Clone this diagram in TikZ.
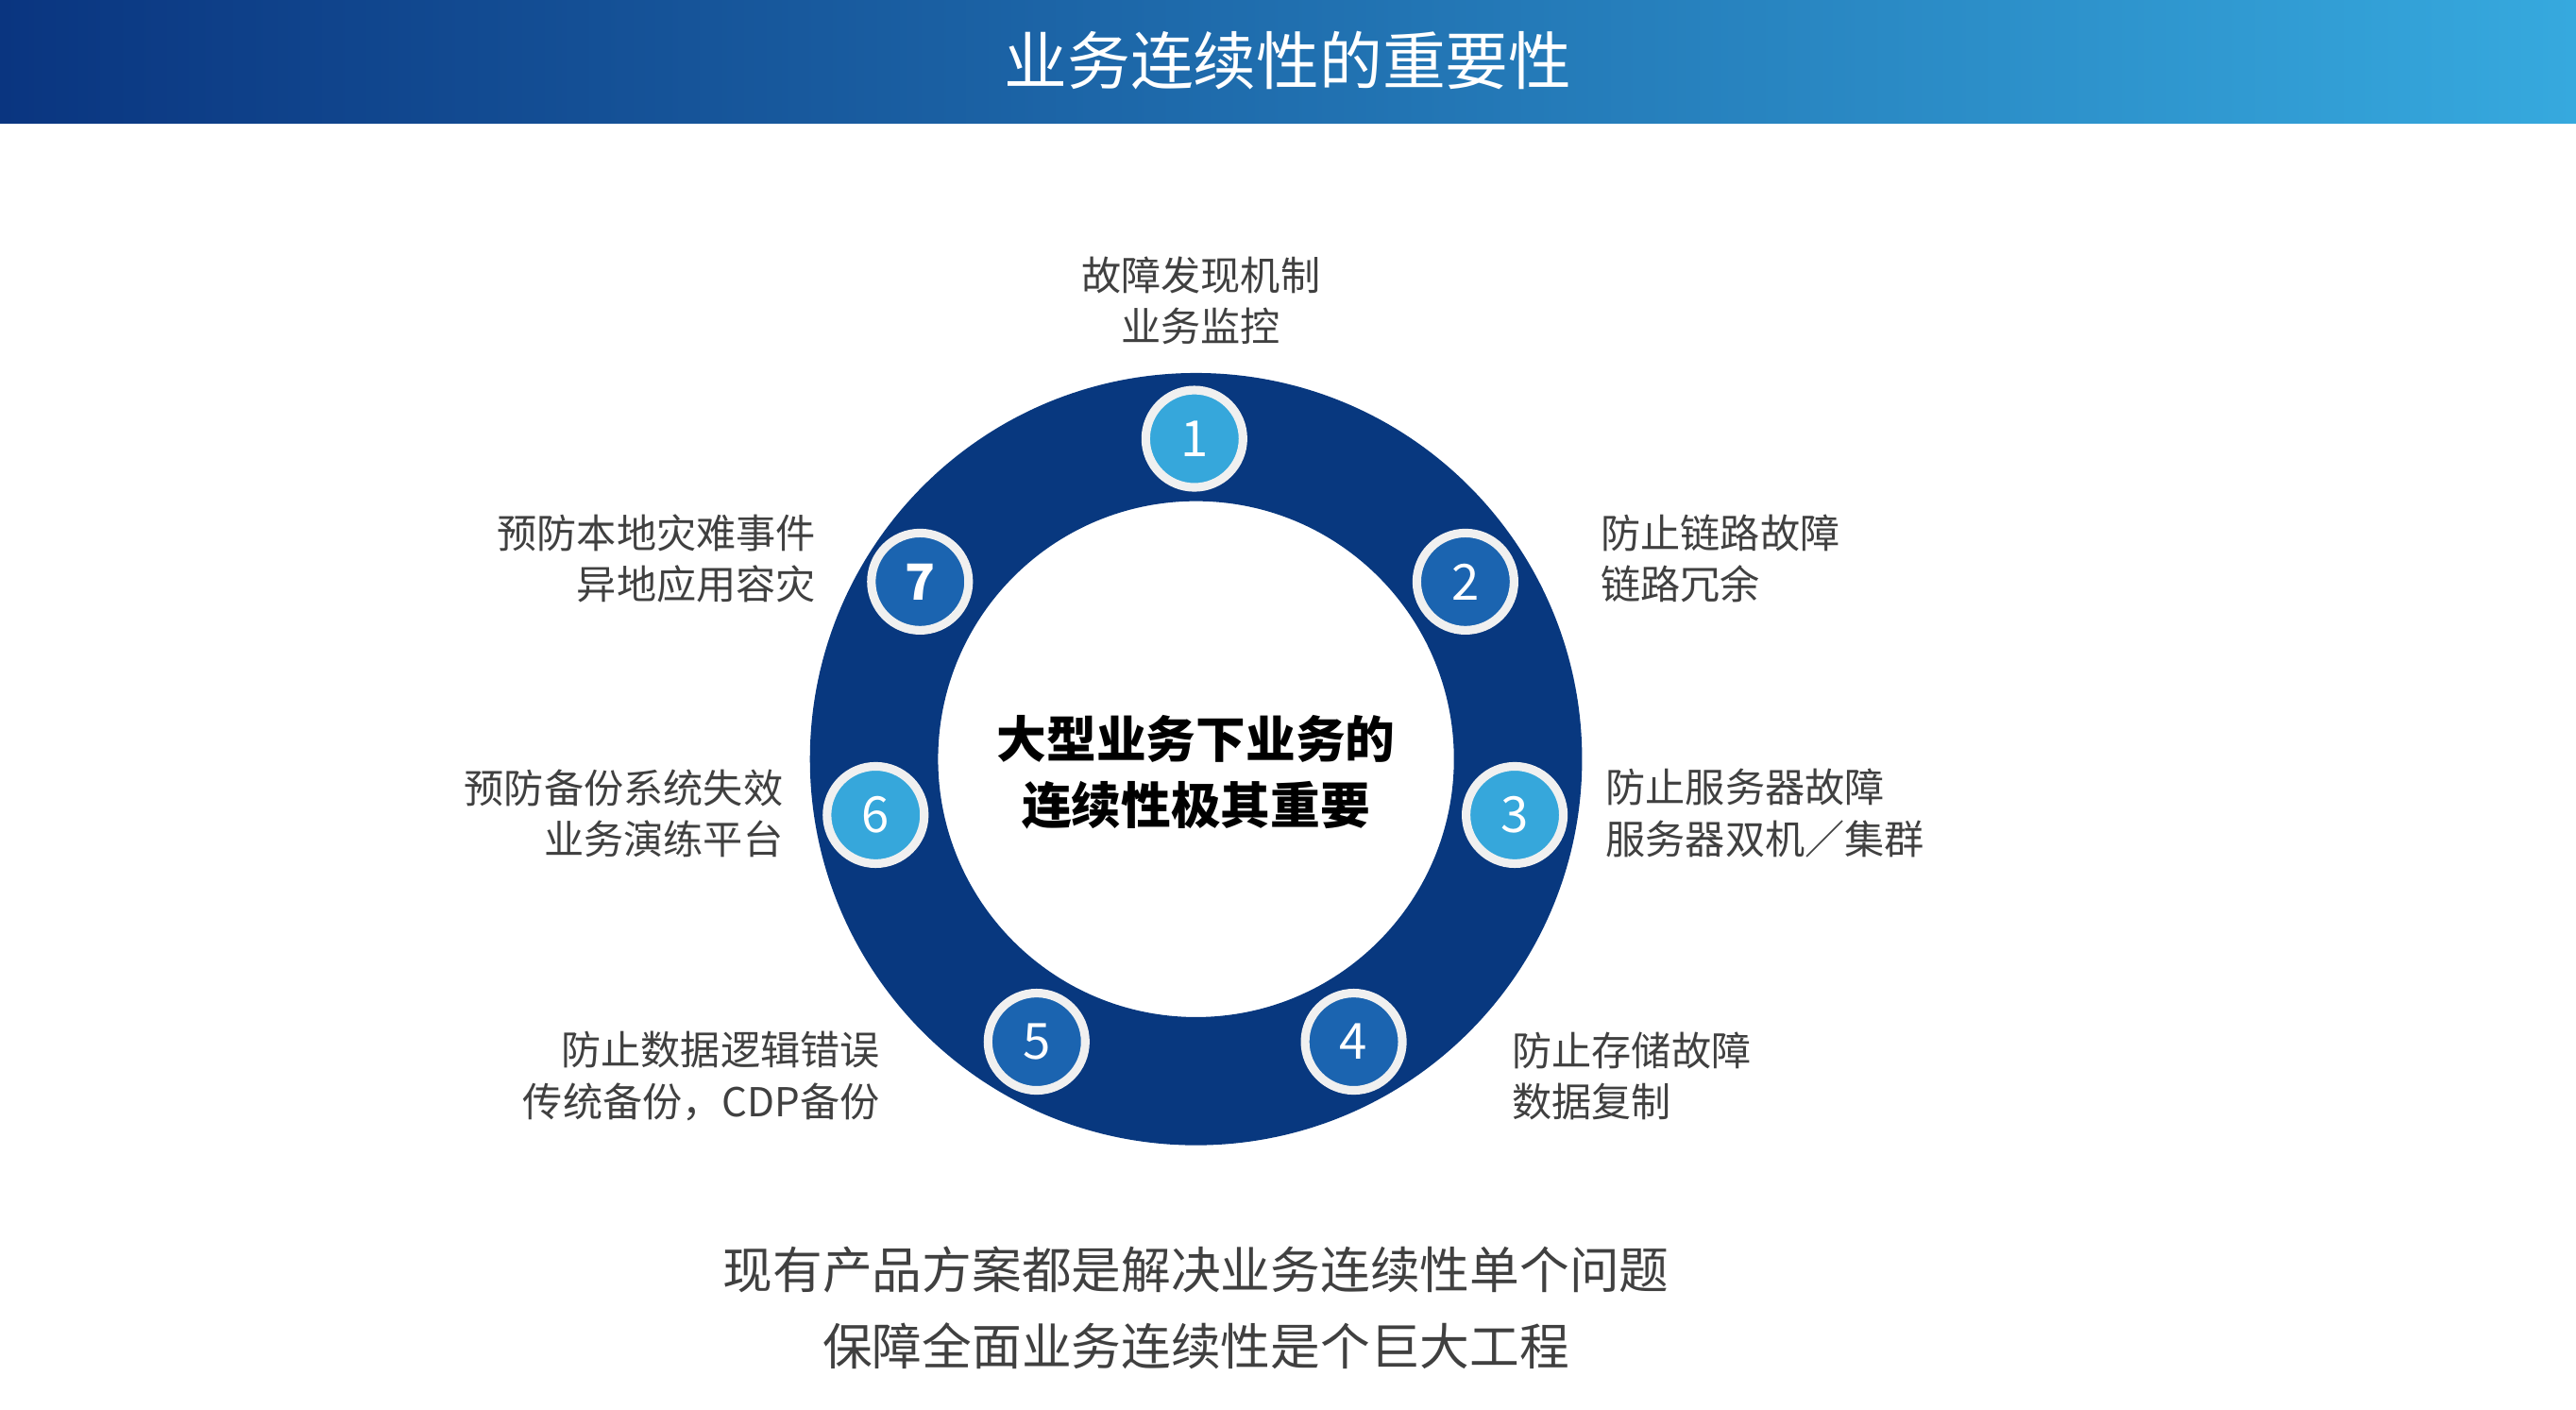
\documentclass[tikz,border=0pt]{standalone}
\usepackage{fontspec}
\setmainfont{Noto Sans CJK SC}
\usetikzlibrary{positioning}
\definecolor{ringblue}{HTML}{08387F}
\definecolor{lightdot}{HTML}{36A7DB}
\definecolor{darkdot}{HTML}{1B64B0}
\definecolor{txtgray}{HTML}{404040}
\definecolor{barleft}{HTML}{0A3580}
\definecolor{barright}{HTML}{36A9DE}
\tikzset{
  dot/.style={circle, draw=white!94!black, line width=2.6pt, minimum size=1.03cm, inner sep=0pt, text=white, font=\fontsize{15}{15}\selectfont},
  lab/.style={text=txtgray, font=\fontsize{12}{15.5}\selectfont, inner sep=0pt},
}
\begin{document}
\begin{tikzpicture}[x=0.0174cm, y=-0.0174cm]
\useasboundingbox (0,0) rectangle (1568,858);
\shade[left color=barleft, right color=barright] (0,0) rectangle (1568,75);
\node[text=white, font=\fontsize{19}{19}\selectfont] (title) at (784,37) {业务连续性的重要性};

% ring
\fill[ringblue, even odd rule] (728,462) circle[radius=235] (728,462) circle[radius=157];
\node[font=\bfseries\fontsize{15}{20}\selectfont, align=center] (core) at (728,470) {大型业务下业务的\\连续性极其重要};

% numbered dots
\node[dot, fill=lightdot] (d1) at (727,267) {1};
\node[dot, fill=darkdot] (d2) at (892,354) {2};
\node[dot, fill=lightdot] (d3) at (922,496) {3};
\node[dot, fill=darkdot] (d4) at (824,634) {4};
\node[dot, fill=darkdot] (d5) at (631,634) {5};
\node[dot, fill=lightdot] (d6) at (533,496) {6};
\node[dot, fill=darkdot, font=\bfseries\fontsize{15}{15}\selectfont] (d7) at (560,354) {7};

% labels
\node[lab, align=center] (l1) at (731,183) {故障发现机制\\业务监控};
\node[lab, align=left, anchor=west] (l2) at (974,340) {防止链路故障\\链路冗余};
\node[lab, align=left, anchor=west] (l3) at (977,495) {防止服务器故障\\服务器双机／集群};
\node[lab, align=left, anchor=west] (l4) at (920,655) {防止存储故障\\数据复制};
\node[lab, align=right, anchor=east] (l5) at (536,655) {防止数据逻辑错误\\传统备份，CDP备份};
\node[lab, align=right, anchor=east] (l6) at (477,495) {预防备份系统失效\\业务演练平台};
\node[lab, align=right, anchor=east] (l7) at (497,340) {预防本地灾难事件\\异地应用容灾};

\node[text=txtgray, font=\fontsize{15}{23}\selectfont, align=center] (foot) at (728,796) {现有产品方案都是解决业务连续性单个问题\\保障全面业务连续性是个巨大工程};
\end{tikzpicture}
\end{document}
